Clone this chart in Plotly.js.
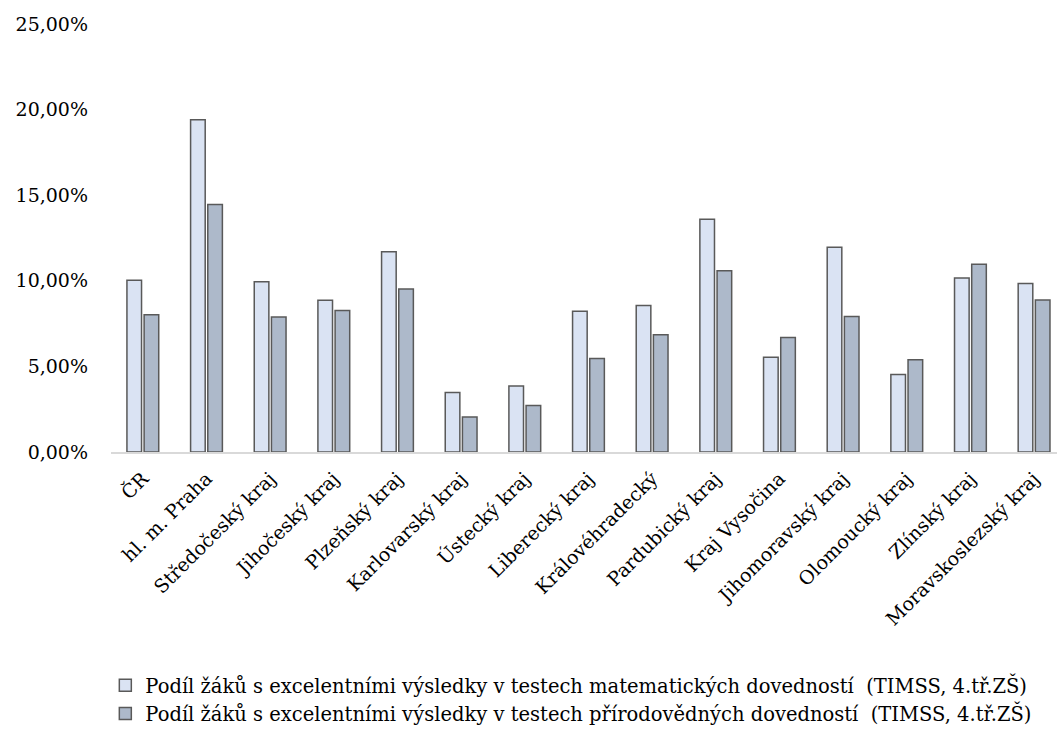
<!DOCTYPE html>
<html>
<head>
<meta charset="utf-8">
<script src="https://cdn.plot.ly/plotly-3.0.1.min.js"></script>
<style>html,body{margin:0;padding:0;background:#fff;}#chart{width:1057px;height:739px;}</style>
</head>
<body>
<div id="chart"></div>
<script>
const categories = ["ČR","hl. m. Praha","Středočeský kraj","Jihočeský kraj","Plzeňský kraj","Karlovarský kraj","Ústecký kraj","Liberecký kraj","Královéhradecký","Pardubický kraj","Kraj Vysočina","Jihomoravský kraj","Olomoucký kraj","Zlínský kraj","Moravskoslezský kraj"];
const mathValues = [0.1003,0.1940,0.0995,0.0886,0.1169,0.0347,0.0386,0.0822,0.0855,0.1360,0.0554,0.1196,0.0453,0.1017,0.0984];
const sciValues  = [0.0802,0.1446,0.0789,0.0827,0.0952,0.0205,0.0271,0.0546,0.0685,0.1058,0.0669,0.0792,0.0539,0.1097,0.0888];
const seriesNames = ["Podíl žáků s excelentními výsledky v testech matematických dovedností  (TIMSS, 4.tř.ZŠ)","Podíl žáků s excelentními výsledky v testech přírodovědných dovedností  (TIMSS, 4.tř.ZŠ)"];
const yTicks = [0,0.05,0.10,0.15,0.20,0.25];

const FONT = "DejaVu Serif";
const data = [
  {type:"bar", x:categories, y:mathValues, name:seriesNames[0],
   marker:{color:"#DAE3F3", line:{color:"#595959", width:1.5}}},
  {type:"bar", x:categories, y:sciValues, name:seriesNames[1],
   marker:{color:"#ADB9CA", line:{color:"#595959", width:1.5}}}
];
const layout = {
  width:1057, height:739,
  margin:{l:111, r:0, t:24, b:287, pad:0},
  paper_bgcolor:"#fff", plot_bgcolor:"#fff",
  separators:", ",
  font:{family:FONT, size:19, color:"#000"},
  barmode:"group", bargap:0.46, bargroupgap:0.15,
  showlegend:true,
  legend:{x:-0.006, y:-0.5, xanchor:"left", yanchor:"top", orientation:"v",
          font:{family:FONT, size:19.5, color:"#000"}, tracegroupgap:3, itemwidth:30},
  xaxis:{type:"category", range:[-0.5,14.36], tickangle:-45, showline:true, linecolor:"#D9D9D9", linewidth:2,
         ticks:"", showgrid:false, zeroline:false, ticklabelstandoff:6, tickfont:{family:FONT,size:19,color:"#000"}, fixedrange:true},
  yaxis:{range:[0,0.25], tickvals:yTicks, tickformat:".2%", showgrid:false, zeroline:false, showline:false,
         ticks:"", ticklen:0, ticklabelstandoff:22, tickfont:{family:FONT,size:19,color:"#000"}, fixedrange:true}
};
Plotly.newPlot("chart", data, layout, {displayModeBar:false, staticPlot:true});
</script>
</body>
</html>
